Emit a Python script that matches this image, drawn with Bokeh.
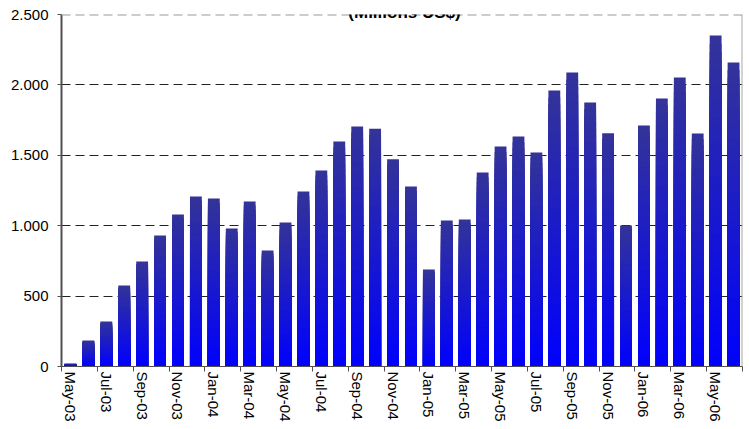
from bokeh.plotting import figure
from bokeh.models import FixedTicker, Span, Label, ColumnDataSource
from bokeh.embed import file_html
from bokeh.resources import INLINE

months = ["May-03", "Jun-03", "Jul-03", "Aug-03", "Sep-03", "Oct-03", "Nov-03", "Dec-03",
          "Jan-04", "Feb-04", "Mar-04", "Apr-04", "May-04", "Jun-04", "Jul-04", "Aug-04",
          "Sep-04", "Oct-04", "Nov-04", "Dec-04", "Jan-05", "Feb-05", "Mar-05", "Apr-05",
          "May-05", "Jun-05", "Jul-05", "Aug-05", "Sep-05", "Oct-05", "Nov-05", "Dec-05",
          "Jan-06", "Feb-06", "Mar-06", "Apr-06", "May-06", "Jun-06"]
values = [20, 185, 320, 575, 746, 930, 1080, 1207,
          1193, 980, 1172, 824, 1023, 1243, 1392, 1598,
          1705, 1688, 1472, 1278, 689, 1037, 1044, 1378,
          1562, 1633, 1520, 1960, 2088, 1875, 1657, 1001,
          1711, 1903, 2053, 1655, 2351, 2159]
y_ticks = [0, 500, 1000, 1500, 2000, 2500]
y_tick_labels = ["0", "500", "1.000", "1.500", "2.000", "2.500"]
title_text = "(Millions US$)"

n = len(values)
xs = [i + 0.5 for i in range(n)]

W, H = 749, 429
ML, MR, MT, MB = 61, 7, 14, 63
p = figure(width=W, height=H, output_backend="svg", toolbar_location=None,
           x_range=(0, n), y_range=(0, 2500),
           min_border_left=ML, min_border_right=MR, min_border_top=MT, min_border_bottom=MB)
p.outline_line_color = None
p.background_fill_color = "white"
p.border_fill_color = "white"

# gradient bars: overlapping bars from dark (top) to bright blue (bottom)
steps = 40
top_rgb = (0x33, 0x33, 0x99)
bot_rgb = (0x00, 0x00, 0xFF)
for k in range(steps):
    frac = 1 - k / steps
    r = round(bot_rgb[0] + (top_rgb[0] - bot_rgb[0]) * frac)
    g = round(bot_rgb[1] + (top_rgb[1] - bot_rgb[1]) * frac)
    b = round(bot_rgb[2] + (top_rgb[2] - bot_rgb[2]) * frac)
    col = "#%02x%02x%02x" % (r, g, b)
    src = ColumnDataSource(dict(x=xs, top=[v * frac for v in values]))
    p.vbar(x="x", top="top", bottom=0, width=0.66, source=src,
           fill_color=col, line_color=None)

# grid
p.xgrid.visible = False
p.ygrid.ticker = FixedTicker(ticks=y_ticks[1:-1])
p.ygrid.grid_line_color = "#222222"
p.ygrid.grid_line_dash = "9 5"
p.ygrid.grid_line_width = 1

# plot-area border: dashed gray top, solid gray right
p.add_layout(Span(location=y_ticks[-1], dimension="width", line_color="#999999",
                  line_width=2, line_dash="9 5"))
p.add_layout(Span(location=n, dimension="height", line_color="#a8a8a8", line_width=2))

# y axis
p.yaxis.ticker = FixedTicker(ticks=y_ticks)
p.yaxis.major_label_overrides = {t: l for t, l in zip(y_ticks, y_tick_labels)}
p.yaxis.minor_tick_line_color = None
p.yaxis.major_tick_in = 0
p.yaxis.major_tick_out = 4
p.yaxis.axis_line_color = "#505050"
p.yaxis.axis_line_width = 2
p.yaxis.major_tick_line_color = "#505050"
p.yaxis.major_label_text_font = "Liberation Sans"
p.yaxis.major_label_text_font_size = "15px"
p.yaxis.major_label_text_color = "black"
p.yaxis.major_label_standoff = 9

# x axis: labels every other month at bar centres, ticks at boundaries
label_pos = xs[::2]
p.xaxis.ticker = FixedTicker(ticks=label_pos, minor_ticks=list(range(0, n + 1, 2)))
p.xaxis.major_label_overrides = {x: months[i * 2] for i, x in enumerate(label_pos)}
p.xaxis.major_label_orientation = "vertical"
p.xaxis.major_tick_in = 0
p.xaxis.major_tick_out = 0
p.xaxis.minor_tick_in = 0
p.xaxis.minor_tick_out = 5
p.xaxis.minor_tick_line_color = "#505050"
p.xaxis.axis_line_color = "#505050"
p.xaxis.axis_line_width = 1
p.xaxis.major_label_text_font = "Liberation Sans"
p.xaxis.major_label_text_font_size = "15px"
p.xaxis.major_label_text_color = "black"
p.xaxis.major_label_standoff = 0

# title (frame-relative screen units)
frame_h = H - MT - MB
p.add_layout(Label(x=404 - ML, y=frame_h + MT - 12, x_units="screen", y_units="screen",
                   text=title_text, text_font="Liberation Sans", text_font_size="17px",
                   text_font_style="bold", text_baseline="alphabetic", text_align="center",
                   text_color="black"))

open("out.html", "w").write(file_html(p, INLINE))
